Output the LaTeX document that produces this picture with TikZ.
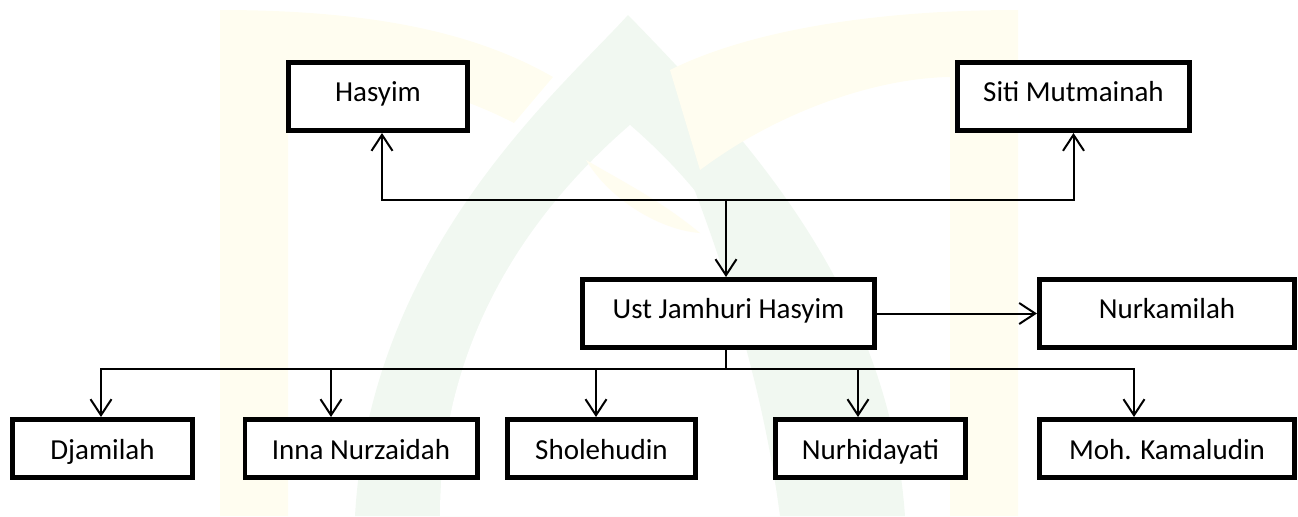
\documentclass[tikz,border=0pt]{standalone}
\usepackage{fontspec}
\setmainfont{Carlito}
\usetikzlibrary{arrows.meta}
\usetikzlibrary{calc}

\definecolor{wmyellow}{HTML}{FFFDF0}
\definecolor{wmgreen}{HTML}{F1F8F1}

\tikzset{
  person/.style={draw, line width=2.3pt, fill=white, minimum height=34.2pt,
    inner sep=0pt, text height=9pt, text depth=3.65pt,
    font=\fontsize{14.5pt}{17pt}\selectfont},
  kid/.style={person, minimum height=29.2pt, text height=11.35pt, text depth=0pt},
  link/.style={line width=1pt},
  arr/.style={link, -{Straight Barb[length=8pt,width=10.5pt,line width=1pt]}}
}

\begin{document}
\begin{tikzpicture}[x=0.5pt,y=-0.5pt]
\useasboundingbox (0,0) rectangle (1298,516);

% faint watermark
\fill[wmgreen] (628,15) .. controls (560,90) and (370,250) .. (355,516) -- (905,516)
  .. controls (890,300) and (760,150) .. (628,15) -- cycle;
\fill[white] (630,125) .. controls (520,220) and (440,350) .. (440,516) -- (820,516)
  .. controls (810,350) and (740,220) .. (630,125) -- cycle;
\fill[wmgreen] (731,133) .. controls (705,145) and (690,160) .. (688,173)
  .. controls (730,280) and (765,400) .. (780,516) -- (850,516)
  .. controls (830,350) and (790,230) .. (731,133) -- cycle;
\fill[wmyellow] (220,10) .. controls (380,10) and (480,35) .. (553,77) -- (514,123)
  .. controls (440,85) and (360,70) .. (288,70) -- (288,516) -- (220,516) -- cycle;
\fill[wmyellow] (1018,10) .. controls (858,10) and (740,35) .. (670,70) -- (700,170)
  .. controls (780,110) and (878,78) .. (950,77) -- (950,516) -- (1018,516) -- cycle;
\fill[wmyellow] (586,160) .. controls (620,180) and (660,200) .. (700,233)
  .. controls (660,230) and (610,200) .. (586,160) -- cycle;

% parents
\node[person, minimum width=89.7pt] (hasyim) at (378,96.5) {Hasyim};
\node[person, minimum width=116.2pt] (siti) at (1073.5,96.5) {Siti Mutmainah};

% ust and wife
\node[person, minimum width=146.2pt] (ust) at (728.5,313.5) {Ust Jamhuri Hasyim};
\node[person, minimum width=127.7pt] (nurkamilah) at (1167,313.5) {Nurkamilah};

% children
\node[kid, minimum width=90.2pt] (djamilah) at (102.5,448.5) {Djamilah};
\node[kid, minimum width=116.2pt] (inna) at (361,448.5) {Inna Nurzaidah};
\node[kid, minimum width=94.2pt] (sholehudin) at (601.5,448.5) {Sholehudin};
\node[kid, minimum width=95.2pt] (nurhidayati) at (870.5,448.5) {Nurhidayati};
\node[kid, minimum width=127.7pt] (moh) at (1167,448.5) {Moh. Kamaludin};

\coordinate (top) at (726,199.5);
\coordinate (bot) at (726,369);

\draw[arr] (top) -| ([xshift=2pt]hasyim.south);
\draw[arr] (top) -| (siti.south);
\draw[arr] (top) -- (top |- ust.north);
\draw[arr] (ust) -- (nurkamilah);
\draw[link] (bot |- ust.south) -- (bot);

\foreach \c/\dx in {djamilah/-0.75pt, inna/-15pt, sholehudin/-2.75pt,
                    nurhidayati/-6.25pt, moh/-16.5pt} {
  \draw[arr] (bot) -| ([xshift=\dx]\c.north);
}
\end{tikzpicture}
\end{document}
